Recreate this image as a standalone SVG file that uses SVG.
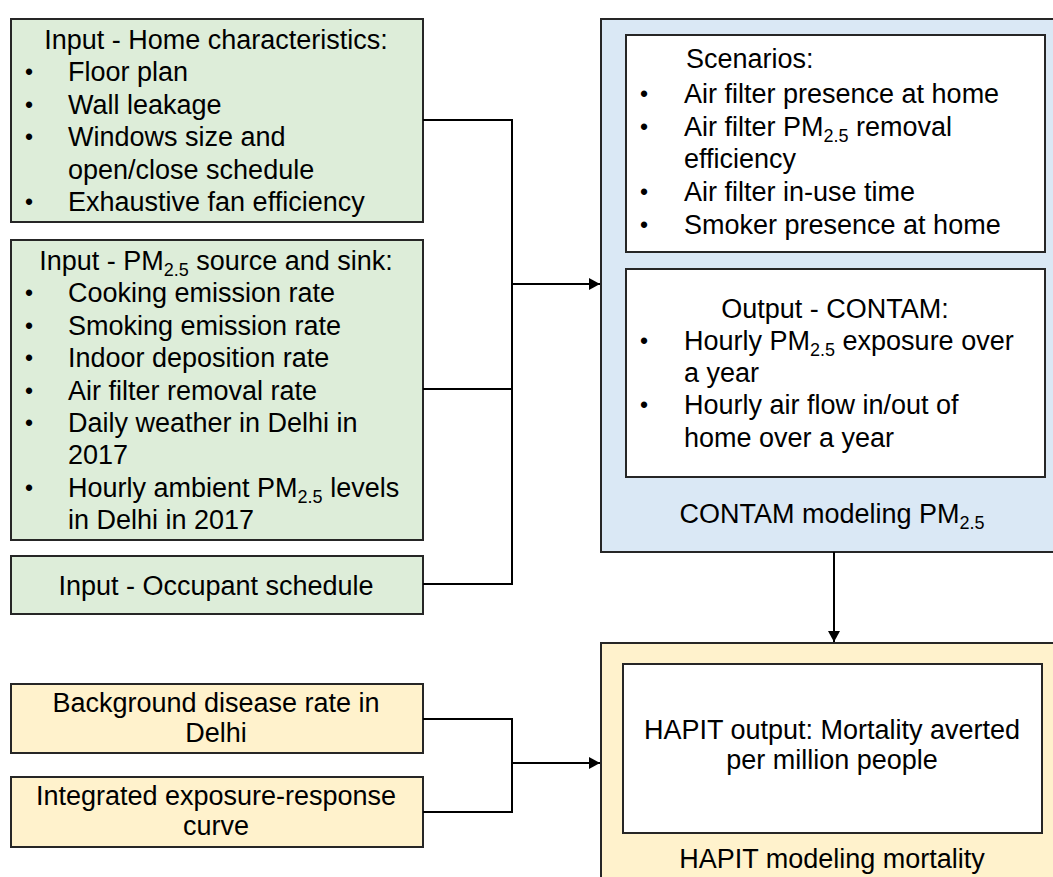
<svg xmlns="http://www.w3.org/2000/svg" width="1053" height="877" viewBox="0 0 1053 877">
<style>
text{font-family:"Liberation Sans",Arial,sans-serif;font-size:27px;fill:#000}
.c{text-anchor:middle}
.sub{font-size:18px}
.bu{font-size:23px;text-anchor:middle}
.box{stroke:#262626;stroke-width:2}
.g{fill:#DDEDD9}
.b{fill:#DAE8F5}
.o{fill:#FFF2CC}
.w{fill:#FFFFFF}
.ln{fill:none;stroke:#000;stroke-width:2}
</style>
<defs>
<marker id="ah" markerWidth="12" markerHeight="12" refX="11" refY="6" orient="auto" markerUnits="userSpaceOnUse">
<path d="M0,0 L11,6 L0,12 Z" fill="#000"/>
</marker>
</defs>
<rect width="1053" height="877" fill="#fff"/>

<g id="contam">
<rect class="box b" x="601" y="19" width="470" height="533"/>
<text class="c" x="832" y="523">CONTAM modeling PM<tspan class="sub" dy="6">2.5</tspan></text>
</g>
<g id="scenarios">
<rect class="box w" x="626" y="35" width="419" height="217"/>
<text x="686" y="68">Scenarios:</text>
<text class="bu" x="644" y="102">•</text><text x="684" y="103">Air filter presence at home</text>
<text class="bu" x="644" y="135">•</text><text x="684" y="136">Air filter PM<tspan class="sub" dy="6">2.5</tspan><tspan dy="-6"> removal</tspan></text>
<text x="684" y="168">efficiency</text>
<text class="bu" x="644" y="200">•</text><text x="684" y="201">Air filter in-use time</text>
<text class="bu" x="644" y="233">•</text><text x="684" y="234">Smoker presence at home</text>
</g>
<g id="output-contam">
<rect class="box w" x="626" y="269" width="419" height="208"/>
<text class="c" x="835" y="318">Output - CONTAM:</text>
<text class="bu" x="644" y="349">•</text><text x="684" y="350">Hourly PM<tspan class="sub" dy="6">2.5</tspan><tspan dy="-6"> exposure over</tspan></text>
<text x="684" y="382">a year</text>
<text class="bu" x="644" y="413">•</text><text x="684" y="414">Hourly air flow in/out of</text>
<text x="684" y="447">home over a year</text>
</g>

<g id="home">
<rect class="box g" x="11" y="19" width="412" height="203"/>
<text class="c" x="216" y="49">Input - Home characteristics:</text>
<text class="bu" x="29" y="80">•</text><text x="68" y="81">Floor plan</text>
<text class="bu" x="29" y="113">•</text><text x="68" y="114">Wall leakage</text>
<text class="bu" x="29" y="145">•</text><text x="68" y="146">Windows size and</text>
<text x="68" y="179">open/close schedule</text>
<text class="bu" x="29" y="210">•</text><text x="68" y="211">Exhaustive fan efficiency</text>
</g>

<g id="source">
<rect class="box g" x="11" y="240" width="412" height="300"/>
<text class="c" x="216" y="270">Input - PM<tspan class="sub" dy="6">2.5</tspan><tspan dy="-6"> source and sink:</tspan></text>
<text class="bu" x="29" y="301">•</text><text x="68" y="302">Cooking emission rate</text>
<text class="bu" x="29" y="334">•</text><text x="68" y="335">Smoking emission rate</text>
<text class="bu" x="29" y="366">•</text><text x="68" y="367">Indoor deposition rate</text>
<text class="bu" x="29" y="399">•</text><text x="68" y="400">Air filter removal rate</text>
<text class="bu" x="29" y="431">•</text><text x="68" y="432">Daily weather in Delhi in</text>
<text x="68" y="464">2017</text>
<text class="bu" x="29" y="496">•</text><text x="68" y="497">Hourly ambient PM<tspan class="sub" dy="6">2.5</tspan><tspan dy="-6"> levels</tspan></text>
<text x="68" y="529">in Delhi in 2017</text>
</g>

<g id="occupant">
<rect class="box g" x="11" y="556" width="412" height="58"/>
<text class="c" x="216" y="595">Input - Occupant schedule</text>
</g>

<g id="background">
<rect class="box o" x="11" y="684" width="412" height="69"/>
<text class="c" x="216" y="712">Background disease rate in</text>
<text class="c" x="216" y="742">Delhi</text>
</g>

<g id="ier">
<rect class="box o" x="11" y="777" width="412" height="70"/>
<text class="c" x="216" y="805">Integrated exposure-response</text>
<text class="c" x="216" y="835">curve</text>
</g>

<g id="hapit">
<rect class="box o" x="601" y="643" width="470" height="250"/>
<text class="c" x="832" y="868">HAPIT modeling mortality</text>
</g>
<g id="hapit-output">
<rect class="box w" x="623" y="664" width="419" height="169"/>
<text class="c" x="832" y="739">HAPIT output: Mortality averted</text>
<text class="c" x="832" y="769">per million people</text>
</g>

<g id="connectors">
<path class="ln" d="M423,120 H512 V584 H423"/>
<path class="ln" d="M423,389 H512"/>
<path class="ln" d="M512,284 H600" marker-end="url(#ah)"/>
<path class="ln" d="M834,552 V642" stroke-width="1.6" marker-end="url(#ah)"/>
<path class="ln" d="M423,719 H512 V812 H423"/>
<path class="ln" d="M512,763 H600" marker-end="url(#ah)"/>
</g>
</svg>
